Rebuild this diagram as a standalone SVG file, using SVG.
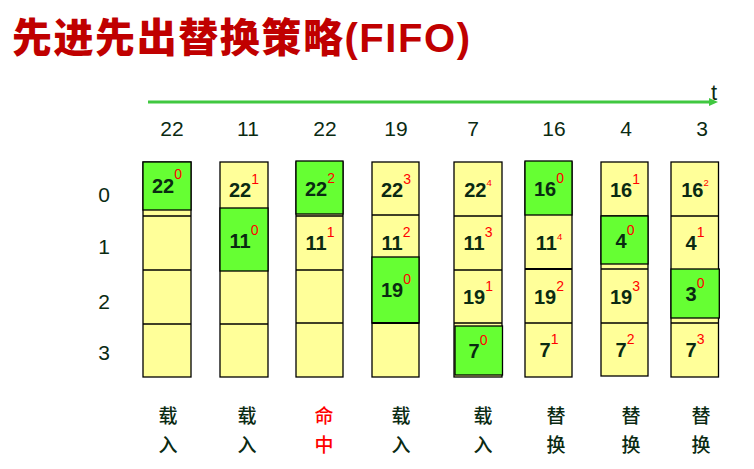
<svg xmlns="http://www.w3.org/2000/svg" width="754" height="469" viewBox="0 0 754 469">
<defs>
<style>
.title{font-family:"Liberation Sans","Noto Sans CJK SC",sans-serif;font-weight:900;font-size:40px;fill:#C00000}
.hd{font-family:"Liberation Sans",Arial,sans-serif;font-size:21px;fill:#0A2A12;text-anchor:middle}
.col{fill:#FFFF99;stroke:#000;stroke-width:1.3}
.g{fill:#66FF33;stroke:#000;stroke-width:1.3}
.ln{stroke:#000;stroke-width:1.3}
.n{font-family:"Liberation Sans",Arial,sans-serif;font-weight:bold;font-size:20px;fill:#0A2A12;text-anchor:middle}
.s{font-weight:normal;font-size:14px;fill:#FF0000}
.ss{font-weight:normal;font-size:9.5px;fill:#FF0000}
.lb{font-family:"Noto Sans CJK SC",serif;font-weight:500;font-size:19px;fill:#0A2A12;text-anchor:middle}
.red{fill:#FF0000}
</style>
<marker id="ah" viewBox="0 0 9 8" refX="0" refY="4" markerWidth="9" markerHeight="8" markerUnits="userSpaceOnUse" orient="auto">
<path d="M0,0 L9,4 L0,8 z" fill="#40C840"/>
</marker>
</defs>
<rect width="754" height="469" fill="#fff"/>
<text class="title" x="12" y="52" textLength="458">先进先出替换策略(FIFO)</text>

<g id="connectors">
<line x1="148" y1="102" x2="709" y2="102" stroke="#40C840" stroke-width="3" marker-end="url(#ah)"/>
</g>
<text x="711" y="100" font-family="Liberation Sans, Arial, sans-serif" font-size="22" fill="#0A2A12">t</text>

<g id="header">
<text class="hd" x="172" y="136">22</text>
<text class="hd" x="248" y="136">11</text>
<text class="hd" x="325" y="136">22</text>
<text class="hd" x="396" y="136">19</text>
<text class="hd" x="473" y="136">7</text>
<text class="hd" x="554" y="136">16</text>
<text class="hd" x="626" y="136">4</text>
<text class="hd" x="702" y="136">3</text>
</g>

<g id="rows">
<text class="hd" x="104" y="202">0</text>
<text class="hd" x="104" y="254">1</text>
<text class="hd" x="104" y="309">2</text>
<text class="hd" x="104" y="360">3</text>
</g>

<g id="col1">
<rect class="col" x="143" y="162" width="48" height="215"/>
<line class="ln" x1="143" y1="216" x2="191" y2="216"/>
<line class="ln" x1="143" y1="270" x2="191" y2="270"/>
<line class="ln" x1="143" y1="324" x2="191" y2="324"/>
<rect class="g" x="143" y="162" width="48" height="48"/>
<text class="n" x="167" y="193">22<tspan class="s" dy="-14">0</tspan></text>
</g>

<g id="col2">
<rect class="col" x="220" y="162" width="48" height="215"/>
<line class="ln" x1="220" y1="324" x2="268" y2="324"/>
<rect class="g" x="220" y="208" width="48" height="63"/>
<text class="n" x="244" y="197">22<tspan class="s" dy="-13">1</tspan></text>
<text class="n" x="244" y="248">11<tspan class="s" dy="-13">0</tspan></text>
</g>

<g id="col3">
<rect class="col" x="296" y="162" width="47" height="215"/>
<line class="ln" x1="296" y1="216" x2="343" y2="216"/>
<line class="ln" x1="296" y1="270" x2="343" y2="270"/>
<line class="ln" x1="296" y1="323" x2="343" y2="323"/>
<rect class="g" x="296" y="161" width="47" height="53"/>
<text class="n" x="320" y="196">22<tspan class="s" dy="-13">2</tspan></text>
<text class="n" x="320" y="250">11<tspan class="s" dy="-13">1</tspan></text>
</g>

<g id="col4">
<rect class="col" x="372" y="162" width="47" height="215"/>
<line class="ln" x1="372" y1="215" x2="419" y2="215"/>
<rect class="g" x="372" y="257" width="47" height="66"/>
<line x1="372" y1="323" x2="419" y2="323" stroke="#000" stroke-width="2"/>
<text class="n" x="396" y="197">22<tspan class="s" dy="-13">3</tspan></text>
<text class="n" x="396" y="250">11<tspan class="s" dy="-13">2</tspan></text>
<text class="n" x="396" y="297">19<tspan class="s" dy="-13">0</tspan></text>
</g>

<g id="col5">
<rect class="col" x="454" y="162" width="48" height="215"/>
<line class="ln" x1="454" y1="216" x2="502" y2="216"/>
<line class="ln" x1="454" y1="270" x2="502" y2="270"/>
<line class="ln" x1="454" y1="323" x2="502" y2="323"/>
<rect class="g" x="455" y="326" width="47.5" height="49"/>
<text class="n" x="478" y="197">22<tspan class="ss" dy="-11">4</tspan></text>
<text class="n" x="478" y="250">11<tspan class="s" dy="-13">3</tspan></text>
<text class="n" x="478" y="304">19<tspan class="s" dy="-13">1</tspan></text>
<text class="n" x="478" y="358">7<tspan class="s" dy="-13">0</tspan></text>
</g>

<g id="col6">
<rect class="col" x="525" y="162" width="47" height="215"/>
<line x1="525" y1="269" x2="572" y2="269" stroke="#000" stroke-width="2"/>
<line class="ln" x1="525" y1="323" x2="572" y2="323"/>
<rect class="g" x="525" y="161" width="47" height="54"/>
<text class="n" x="549" y="196">16<tspan class="s" dy="-13">0</tspan></text>
<text class="n" x="549" y="250">11<tspan class="ss" dy="-10">4</tspan></text>
<text class="n" x="549" y="304">19<tspan class="s" dy="-13">2</tspan></text>
<text class="n" x="549" y="357">7<tspan class="s" dy="-13">1</tspan></text>
</g>

<g id="col7">
<rect class="col" x="601" y="162" width="47" height="214"/>
<line class="ln" x1="601" y1="216" x2="648" y2="216"/>
<line class="ln" x1="601" y1="269" x2="648" y2="269"/>
<line class="ln" x1="601" y1="323" x2="648" y2="323"/>
<rect class="g" x="601" y="216" width="47" height="48"/>
<text class="n" x="625" y="197">16<tspan class="s" dy="-13">1</tspan></text>
<text class="n" x="625" y="248">4<tspan class="s" dy="-13">0</tspan></text>
<text class="n" x="625" y="304">19<tspan class="s" dy="-13">3</tspan></text>
<text class="n" x="625" y="357">7<tspan class="s" dy="-13">2</tspan></text>
</g>

<g id="col8">
<rect class="col" x="671" y="162" width="47.5" height="215"/>
<line class="ln" x1="671" y1="216" x2="718.5" y2="216"/>
<line class="ln" x1="671" y1="323" x2="718.5" y2="323"/>
<rect class="g" x="671" y="269" width="48.3" height="49"/>
<text class="n" x="695" y="197">16<tspan class="ss" dy="-11">2</tspan></text>
<text class="n" x="695" y="250">4<tspan class="s" dy="-13">1</tspan></text>
<text class="n" x="695" y="301">3<tspan class="s" dy="-13">0</tspan></text>
<text class="n" x="695" y="357">7<tspan class="s" dy="-13">3</tspan></text>
</g>

<g id="labels">
<text class="lb" x="168" y="423">载<tspan x="168" y="452">入</tspan></text>
<text class="lb" x="247" y="423">载<tspan x="247" y="452">入</tspan></text>
<text class="lb red" x="324" y="423">命<tspan x="324" y="452">中</tspan></text>
<text class="lb" x="401" y="423">载<tspan x="401" y="452">入</tspan></text>
<text class="lb" x="483" y="423">载<tspan x="483" y="452">入</tspan></text>
<text class="lb" x="556" y="423">替<tspan x="556" y="452">换</tspan></text>
<text class="lb" x="631" y="423">替<tspan x="631" y="452">换</tspan></text>
<text class="lb" x="701" y="423">替<tspan x="701" y="452">换</tspan></text>
</g>
</svg>
